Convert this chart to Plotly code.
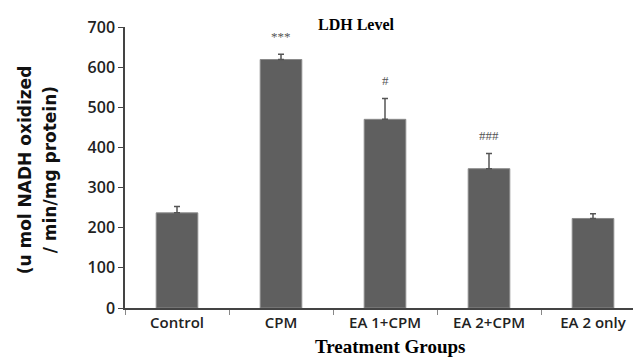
import plotly.graph_objects as go

groups = ["Control", "CPM", "EA 1+CPM", "EA 2+CPM", "EA 2 only"]
ldh = [237, 619, 470, 347, 223]
sem = [16, 13, 52, 38, 12]
marks = ["", "***", "#", "###", ""]
y_ticks = [0, 100, 200, 300, 400, 500, 600, 700]

fig = go.Figure()
fig.add_trace(go.Bar(
    x=groups, y=ldh, width=0.4,
    marker=dict(color="#5f5f5f", line=dict(color="#8a8a8a", width=1)),
    error_y=dict(type="data", array=sem, symmetric=False, arrayminus=[0]*len(sem),
                 color="#555555", thickness=1.5, width=3),
))

for g, v, e, m in zip(groups, ldh, sem, marks):
    if m:
        fig.add_annotation(x=g, y=v + e, text=m, showarrow=False, yshift=18,
                           font=dict(family="Liberation Serif", size=13, color="#555555"))

fig.add_annotation(x=0.445, xref="paper", y=1.0, yref="paper", yanchor="middle", yshift=3,
                   text="<b>LDH Level</b>", showarrow=False,
                   font=dict(family="Liberation Serif", size=16, color="black"))
fig.add_annotation(x=0.51, xref="paper", y=0, yref="paper", yanchor="middle", yshift=-38,
                   text="<b>Treatment Groups</b>", showarrow=False,
                   font=dict(family="Liberation Serif", size=19, color="black"))
fig.add_annotation(x=0, xref="paper", xshift=-100, xanchor="center", y=0.49, yref="paper",
                   text="<b>(u mol NADH oxidized</b>", showarrow=False,
                   textangle=-90, font=dict(family="DejaVu Sans", size=17, color="#111111"))
fig.add_annotation(x=0, xref="paper", xshift=-75, xanchor="center", y=0.49, yref="paper",
                   text="<b>/ min/mg protein)</b>", showarrow=False,
                   textangle=-90, font=dict(family="DejaVu Sans", size=17, color="#111111"))

fig.update_layout(
    width=641, height=358,
    margin=dict(l=117, r=4, t=19, b=58),
    paper_bgcolor="white", plot_bgcolor="white",
    showlegend=False,
    font=dict(family="Open Sans", size=15, color="#222222"),
    xaxis=dict(showline=True, linecolor="#444444", linewidth=1.5, ticks="outside",
               tickson="boundaries", ticklen=5, tickcolor="#888888",
               tickfont=dict(family="Open Sans", size=15, color="#222222", weight=600)),
    yaxis=dict(range=[0, 700], tickvals=y_ticks, showline=True, linecolor="#444444",
               linewidth=1.5, ticks="outside", ticklen=5, tickcolor="#444444",
               showgrid=False, zeroline=False,
               tickfont=dict(family="Open Sans", size=16, color="#222222", weight=600)),
)
fig.write_html("out.html")
